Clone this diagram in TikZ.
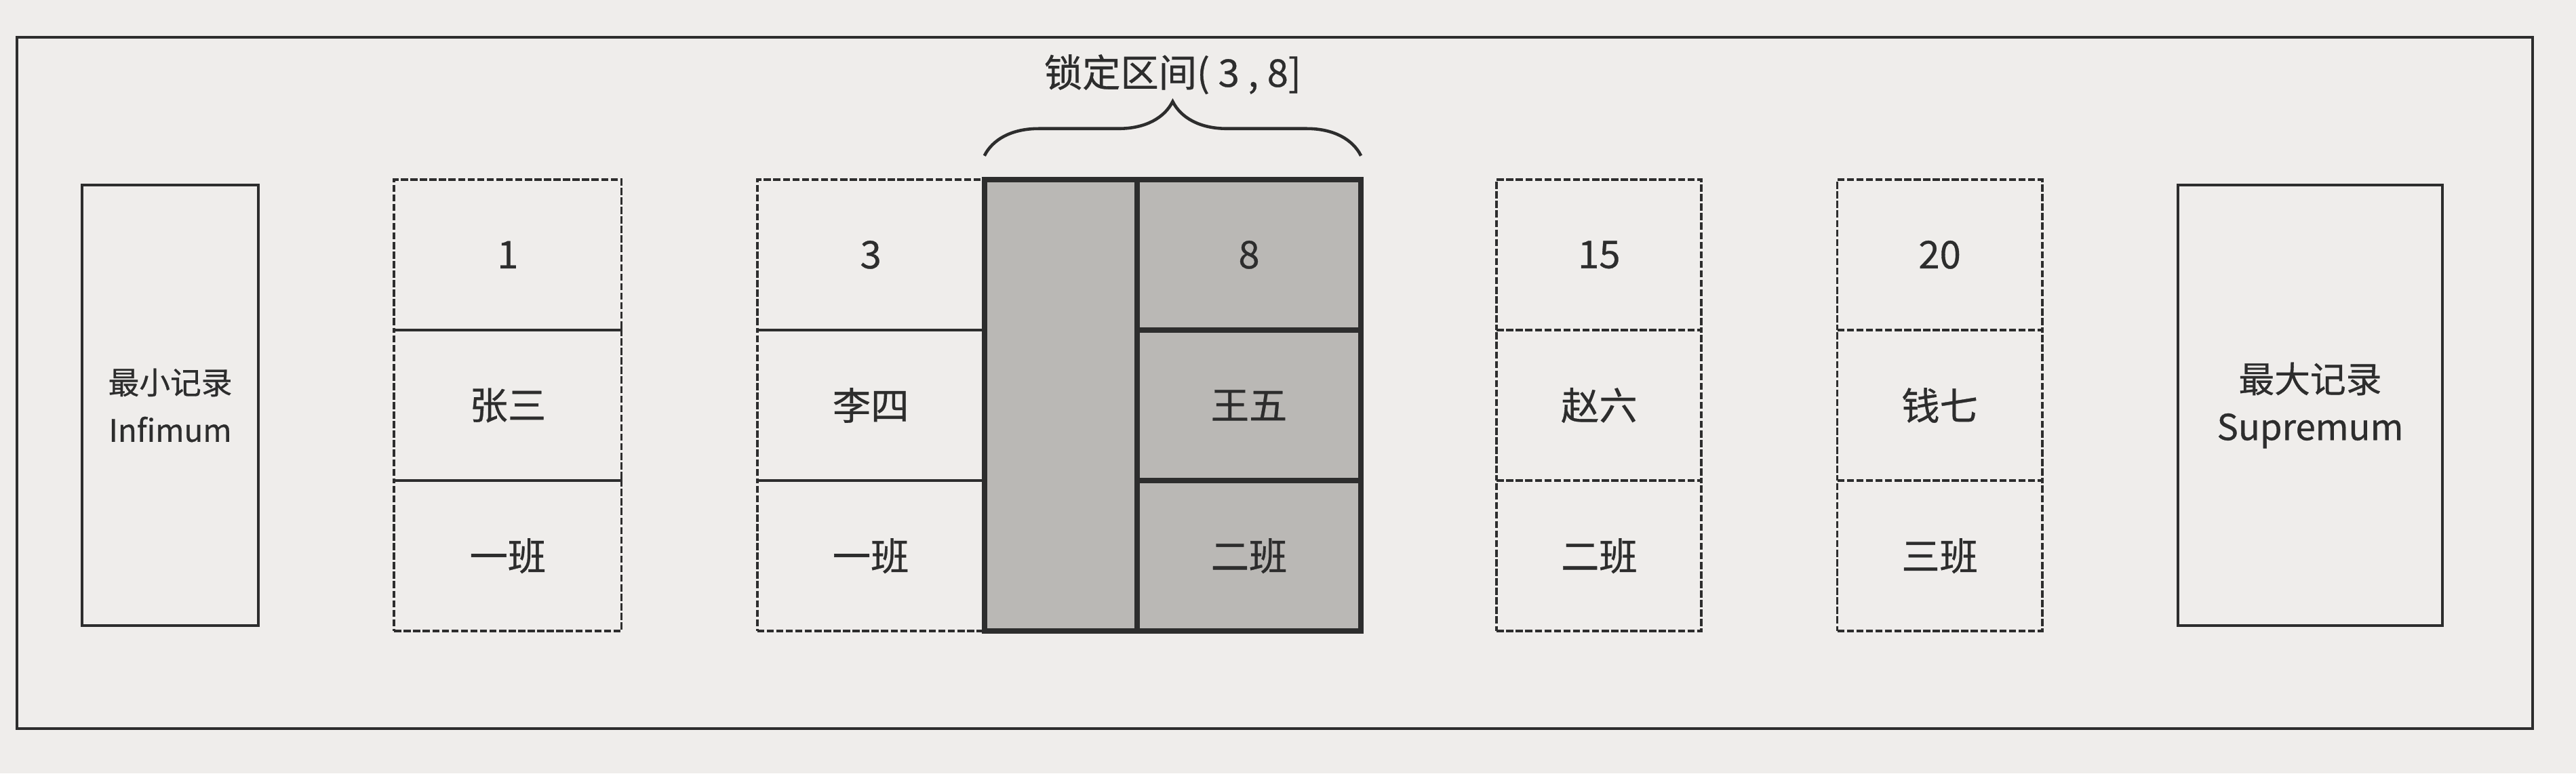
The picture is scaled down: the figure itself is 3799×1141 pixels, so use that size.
\documentclass[tikz,border=0pt]{standalone}
\usepackage{fontspec}
\setmainfont{Noto Sans CJK SC}[FakeBold=0.6]
\usetikzlibrary{positioning,decorations.pathreplacing}
\definecolor{paper}{RGB}{239,237,235}
\definecolor{lockgray}{RGB}{186,184,181}
\definecolor{ink}{RGB}{45,45,45}

\begin{document}
\begin{tikzpicture}[x=0.01cm,y=-0.01cm,ink,
	cell/.style={draw=ink,line width=1.1pt,dash pattern=on 3pt off 1pt,minimum width=3.35cm,minimum height=2.22cm,inner sep=0pt,outer sep=0pt,font=\fontsize{16}{19}\selectfont},
	narrow/.style={minimum width=3.02cm},
	lockcell/.style={cell,solid,line width=2.2pt,fill=lockgray,minimum width=3.3cm},
	endrec/.style={draw=ink,line width=1.2pt,align=center,inner sep=0pt,outer sep=0pt,minimum height=6.5cm}]
	\fill[paper] (0,0) rectangle (3799,1141);
	\useasboundingbox (0,0) rectangle (3799,1141);
	\draw[line width=1.2pt] (25,55) rectangle (3735,1075);

	% infimum
	\node[endrec,minimum width=2.6cm,font=\fontsize{13}{20}\selectfont,anchor=west]	(inf)	at (121,598)	{最小记录\\Infimum};

	% records, middle row first
	\node[cell]			(n1)	[right=2cm of inf]		{张三};
	\node[cell]			(k1)	[above=0pt of n1]		{1};
	\node[cell]			(c1)	[below=0pt of n1]		{一班};

	\node[cell]			(n3)	[right=2cm of n1]		{李四};
	\node[cell]			(k3)	[above=0pt of n3]		{3};
	\node[cell]			(c3)	[below=0pt of n3]		{一班};

	% locked gap and record 8
	\node[lockcell,minimum width=2.25cm,minimum height=6.66cm]	(gap)	[right=0pt of n3]	{};
	\node[lockcell]		(n8)	[right=0pt of gap]		{王五};
	\node[lockcell]		(k8)	[above=0pt of n8]		{8};
	\node[lockcell]		(c8)	[below=0pt of n8]		{二班};

	\node[cell,narrow]	(n15)	[right=2cm of n8]		{赵六};
	\node[cell,narrow]	(k15)	[above=0pt of n15]		{15};
	\node[cell,narrow]	(c15)	[below=0pt of n15]		{二班};

	\node[cell,narrow]	(n20)	[right=2cm of n15]		{钱七};
	\node[cell,narrow]	(k20)	[above=0pt of n20]		{20};
	\node[cell,narrow]	(c20)	[below=0pt of n20]		{三班};

	% supremum
	\node[endrec,minimum width=3.9cm,font=\fontsize{15}{20}\selectfont]	(sup)	[right=2cm of n20]	{最大记录\\Supremum};

	% brace over the locked range
	\coordinate[above=0.35cm of gap.north west]	(bl);
	\coordinate[above=0.35cm of k8.north east]	(br);
	\draw[line width=1.3pt,decorate,decoration={brace,amplitude=0.8cm}] (bl) -- (br);
	\path (bl) -- (br) coordinate[midway] (mid);
	\node[inner sep=0pt,font=\fontsize{16}{19}\selectfont]	(lock)	[above=0.9cm of mid]	{锁定区间( 3 , 8]};
\end{tikzpicture}
\end{document}
